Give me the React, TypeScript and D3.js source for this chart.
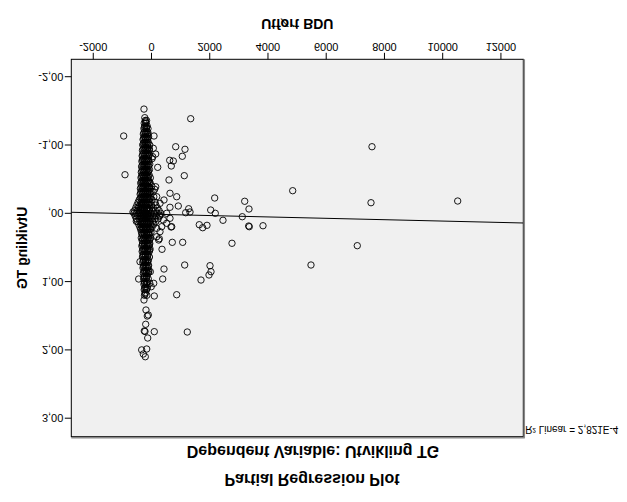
import React from "react";
import * as d3 from "d3";

// Chart is shown mirrored vertically (as in the reference image).
const xTicks = [-2000, 0, 2000, 4000, 6000, 8000, 10000, 12000];
const yTicks = [-2, -1, 0, 1, 2, 3];
const yTickLabels = ["-2,00", "-1,00", ",00", "1,00", "2,00", "3,00"];

const xTitle = "Utført BDU";
const yTitle = "Utvikling TG";
const subTitle = "Dependent Variable: Utvikling TG";
const mainTitle = "Partial Regression Plot";
const r2Label = "R² Linear = 2,821E-4";

const fitIntercept = 0.0128;
const fitSlope = 1.01e-5;

// scattered residual points [Utført BDU, Utvikling TG]
const outlierPoints: [number, number][] = [
  [-258, -1.526], [1346, -1.385], [-955, -1.132], [86, -1.132], [831, -0.975],
  [1150, -0.937], [1058, -0.835], [625, -0.776], [749, -0.766], [680, -0.693],
  [213, -0.673], [-910, -0.565], [1126, -0.551], [601, -0.488], [4849, -0.331],
  [2170, -0.224], [3201, -0.176], [3348, -0.063], [2033, -0.048], [2191, 0.0],
  [1277, -0.067], [1322, -0.019], [1174, -0.009], [2455, 0.102], [3118, 0.05],
  [3338, 0.186], [3358, 0.196], [3829, 0.182], [1641, 0.167], [1758, 0.211],
  [1906, 0.176], [2764, 0.439], [714, 0.425], [1071, 0.425], [361, 0.527],
  [268, 0.372], [1140, 0.757], [2009, 0.767], [2043, 0.855], [1975, 0.903],
  [1700, 0.977], [429, 0.816], [385, 0.962], [-440, 0.962], [76, 1.025],
  [7572, -0.975], [7538, -0.155], [10515, -0.18], [7067, 0.474], [5477, 0.757],
  [865, 1.192], [1229, 1.738], [96, 1.211], [96, 1.733], [-395, 0.709],
  [-258, 1.269], [-189, 1.416], [-144, 1.504], [-110, 1.489], [-199, 1.625],
  [-247, 1.723], [-223, 1.73], [-130, 1.826], [-337, 2.0], [-165, 1.987],
  [-282, 2.06], [-213, 2.1],
  [179, -0.243], [292, -0.146], [429, -0.195], [635, -0.293], [865, -0.243],
  [920, -0.107], [635, -0.088], [522, 0.0], [292, 0.025], [405, 0.098],
  [635, 0.073], [694, 0.196], [522, 0.146], [350, 0.196], [179, 0.22],
  [292, 0.269], [179, 0.343], [247, 0.391], [144, -0.389], [110, -0.351],
  [-635, -0.019], [-522, 0.117], [-440, -0.097], [62, -0.952], [144, -0.868],
  [41, -0.829], [-40, 0.855], [-60, 1.025], [-10, 1.075], [671, 0.2],
];

// dense column of residuals near Utført BDU ≈ 0: [Utvikling TG, [Utført BDU ...]]
const coreRows: [number, number[]][] = [
  [-1.4, [-230]],
  [-1.36, [-210, -170]],
  [-1.32, [-250, -190]],
  [-1.28, [-220, -150]],
  [-1.24, [-260, -180, -120]],
  [-1.2, [-230, -160]],
  [-1.16, [-280, -200, -130]],
  [-1.12, [-240, -170, -100]],
  [-1.08, [-290, -210, -140]],
  [-1.04, [-250, -180, -110]],
  [-1.0, [-300, -220, -150, -60]],
  [-0.96, [-260, -190, -120]],
  [-0.92, [-310, -230, -160, -80]],
  [-0.88, [-270, -200, -130]],
  [-0.84, [-320, -240, -170, -90]],
  [-0.8, [-280, -210, -140, 20]],
  [-0.76, [-330, -250, -180, -100]],
  [-0.72, [-290, -220, -150, -60]],
  [-0.68, [-340, -260, -190, -110]],
  [-0.64, [-300, -230, -160, -70]],
  [-0.6, [-350, -270, -200, -120]],
  [-0.56, [-310, -240, -170, -80]],
  [-0.52, [-360, -280, -210, -130, -40]],
  [-0.48, [-320, -250, -180, -100]],
  [-0.44, [-370, -290, -220, -140, -50]],
  [-0.4, [-330, -260, -190, -110, 10]],
  [-0.36, [-380, -300, -230, -150, -60]],
  [-0.32, [-340, -270, -200, -120, -20, 60]],
  [-0.28, [-390, -310, -240, -160, -80]],
  [-0.24, [-350, -280, -210, -130, -40, 80]],
  [-0.2, [-420, -320, -250, -170, -90, 20]],
  [-0.16, [-460, -360, -290, -220, -140, -50, 120]],
  [-0.12, [-500, -400, -330, -260, -180, -100, 0, 150]],
  [-0.08, [-540, -440, -370, -300, -230, -150, -60, 60, 200]],
  [-0.04, [-580, -480, -400, -320, -250, -170, -80, 30, 130, 260]],
  [0.0, [-600, -520, -430, -350, -270, -190, -110, -20, 90, 190, 320]],
  [0.04, [-560, -470, -380, -300, -220, -140, -50, 50, 160, 280]],
  [0.08, [-520, -420, -340, -260, -180, -100, 0, 110, 230]],
  [0.12, [-480, -390, -310, -230, -150, -60, 40, 150]],
  [0.16, [-440, -360, -280, -200, -120, -30, 80]],
  [0.2, [-400, -320, -240, -160, -80, 20]],
  [0.24, [-370, -290, -210, -130, -50]],
  [0.28, [-340, -260, -180, -100, -20]],
  [0.32, [-310, -230, -150, -70]],
  [0.36, [-350, -270, -190, -110, -30]],
  [0.4, [-320, -240, -160, -80]],
  [0.44, [-300, -220, -140, -60]],
  [0.48, [-330, -250, -170, -90]],
  [0.52, [-290, -210, -130, -50]],
  [0.56, [-320, -240, -160, -80]],
  [0.6, [-280, -200, -120]],
  [0.64, [-310, -230, -150, -70]],
  [0.68, [-270, -190, -110]],
  [0.72, [-300, -220, -140]],
  [0.76, [-260, -180, -100]],
  [0.8, [-290, -210, -130]],
  [0.84, [-250, -170, -90]],
  [0.88, [-280, -200, -120]],
  [0.92, [-240, -160]],
  [0.96, [-270, -190, -110]],
  [1.0, [-230, -150]],
  [1.04, [-260, -180]],
  [1.08, [-220, -140]],
  [1.12, [-250, -170]],
  [1.16, [-210]],
  [1.2, [-240, -160]],
];

// second layer of the same dense column (in-between rows)
const coreRowsB: [number, number[]][] = [
  [-1.34, [-200]],
  [-1.26, [-240, -170]],
  [-1.18, [-260, -190, -120]],
  [-1.1, [-270, -200, -130]],
  [-1.02, [-280, -200, -130]],
  [-0.94, [-290, -210, -140, -70]],
  [-0.86, [-300, -220, -150, -80]],
  [-0.78, [-310, -230, -160, -90]],
  [-0.7, [-320, -240, -170, -100]],
  [-0.62, [-330, -250, -180, -100]],
  [-0.54, [-340, -260, -190, -110]],
  [-0.46, [-350, -270, -200, -120, -60]],
  [-0.38, [-360, -280, -210, -130, -70]],
  [-0.3, [-370, -290, -220, -140, -60]],
  [-0.22, [-380, -300, -220, -140, -60]],
  [-0.14, [-340, -260, -190, -110]],
  [-0.06, [-330, -250, -170, -90]],
  [0.02, [-280, -200, -120]],
  [0.06, [-320, -240, -160, -80]],
  [0.14, [-330, -250, -170, -90]],
  [0.22, [-360, -280, -200, -120, -40]],
  [0.3, [-330, -250, -170, -90]],
  [0.38, [-300, -220, -140, -60]],
  [0.46, [-310, -230, -150, -70]],
  [0.54, [-300, -220, -140, -60]],
  [0.62, [-290, -210, -130]],
  [0.7, [-280, -200, -120]],
  [0.78, [-270, -190, -110]],
  [0.86, [-260, -180, -100]],
  [0.94, [-250, -170]],
  [1.02, [-240, -160]],
  [1.1, [-230, -160]],
  [1.18, [-220]],
];

const W = 627;
const H = 502;
const plot = { left: 71.3, right: 523.3, top: 59.3, bottom: 436.7 };
const FONT = "'Liberation Sans', Arial, sans-serif";

function FlipText(props: {
  x: number;
  y: number;
  text: string;
  size: number;
  bold?: boolean;
  anchor?: string;
  rotate?: number;
}) {
  const { x, y, text, size, bold, anchor = "middle", rotate = 0 } = props;
  return (
    <text
      transform={`translate(${x},${y}) scale(1,-1) rotate(${rotate})`}
      textAnchor={anchor}
      dominantBaseline="central"
      fontFamily={FONT}
      fontSize={size}
      fontWeight={bold ? "bold" : "normal"}
      fill="#000"
    >
      {text}
    </text>
  );
}

export default function App() {
  const x = d3.scaleLinear().domain([-2754, 12768]).range([plot.left, plot.right]);
  const y = d3.scaleLinear().domain([-2.255, 3.271]).range([plot.top, plot.bottom]);

  const points: [number, number][] = [];
  coreRows.forEach(([yv, xs]) => xs.forEach((xv) => points.push([xv, yv])));
  coreRowsB.forEach(([yv, xs]) => xs.forEach((xv) => points.push([xv, yv])));
  outlierPoints.forEach((p) => points.push(p));

  const [x0, x1] = x.domain();
  const line = d3.line<number>()
    .x((d) => x(d))
    .y((d) => y(fitIntercept + fitSlope * d));

  return (
    <svg
      width={W}
      height={H}
      style={{ position: "absolute", left: 0, top: 0, background: "#fff" }}
    >
      <rect x={0} y={0} width={W} height={H} fill="#fff" />
      <rect
        x={plot.left}
        y={plot.top}
        width={plot.right - plot.left}
        height={plot.bottom - plot.top}
        fill="#f0f0f0"
      />
      <defs>
        <clipPath id="clip">
          <rect
            x={plot.left}
            y={plot.top}
            width={plot.right - plot.left}
            height={plot.bottom - plot.top}
          />
        </clipPath>
      </defs>
      <g clipPath="url(#clip)">
        {points.map((p, i) => (
          <circle
            key={i}
            cx={x(p[0])}
            cy={y(p[1])}
            r={3.2}
            fill="none"
            stroke="#000"
            strokeWidth={0.9}
          />
        ))}
        <path d={line([x0, x1]) || ""} stroke="#000" strokeWidth={1} fill="none" />
      </g>
      <rect
        x={plot.left}
        y={plot.top}
        width={plot.right - plot.left}
        height={plot.bottom - plot.top}
        fill="none"
        stroke="#000"
        strokeWidth={1}
      />
      <line x1={plot.right + 1} x2={plot.right + 1} y1={plot.top} y2={plot.bottom + 1} stroke="#888" strokeWidth={1.5} />
      <line x1={plot.left} x2={plot.right + 1.5} y1={plot.bottom + 1} y2={plot.bottom + 1} stroke="#888" strokeWidth={1.5} />

      {xTicks.map((t) => (
        <g key={t}>
          <line x1={x(t)} x2={x(t)} y1={plot.top} y2={plot.top - 6.5} stroke="#000" />
          <FlipText x={x(t)} y={46.5} text={String(t)} size={11} />
        </g>
      ))}
      <FlipText x={(plot.left + plot.right) / 2} y={24} text={xTitle} size={14} bold />

      {yTicks.map((t, i) => (
        <g key={t}>
          <line x1={plot.left} x2={plot.left - 6.5} y1={y(t)} y2={y(t)} stroke="#000" />
          <FlipText x={plot.left - 8} y={y(t)} text={yTickLabels[i]} size={11} anchor="end" />
        </g>
      ))}
      <FlipText x={22} y={(plot.top + plot.bottom) / 2} text={yTitle} size={14} bold rotate={-90} />

      <FlipText x={313} y={451} text={subTitle} size={16} bold />
      <FlipText x={312} y={479} text={mainTitle} size={16} bold />
      <FlipText x={plot.right + 2} y={429} text={r2Label} size={10} anchor="start" />
    </svg>
  );
}
